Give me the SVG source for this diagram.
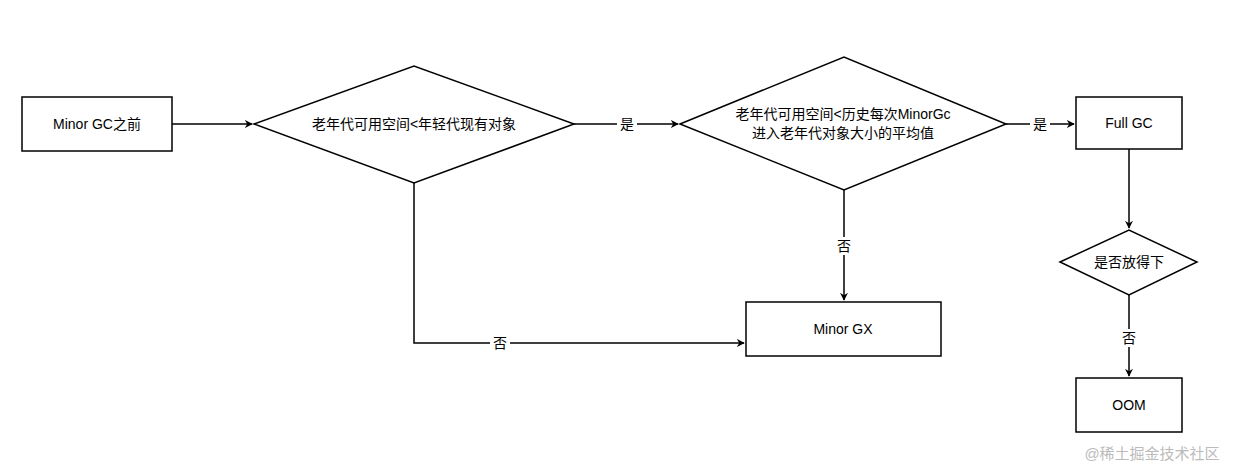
<svg xmlns="http://www.w3.org/2000/svg" width="1240" height="469" viewBox="0 0 1240 469">
<style>
.s{fill:#fff;stroke:#000;stroke-width:1.5}
.c{fill:none;stroke:#000;stroke-width:1.5}
text{font-family:"Liberation Sans","Noto Sans CJK SC",sans-serif;font-size:14px;fill:#000;text-anchor:middle;dominant-baseline:central}
.lb{fill:#fff;stroke:none}
</style>
<defs><marker id="a" viewBox="0 0 10 10" refX="9" refY="5" markerWidth="8" markerHeight="8" markerUnits="userSpaceOnUse" orient="auto"><path d="M0,0L10,5L0,10L3,5z" fill="#000"/></marker></defs>
<rect width="1240" height="469" fill="#fff"/>
<g id="connectors">
<path class="c" d="M172,124H252" marker-end="url(#a)"/>
<path class="c" d="M574,124H678" marker-end="url(#a)"/>
<path class="c" d="M1006,124H1074" marker-end="url(#a)"/>
<path class="c" d="M1129,149V228" marker-end="url(#a)"/>
<path class="c" d="M1129,295V376" marker-end="url(#a)"/>
<path class="c" d="M844,190V300" marker-end="url(#a)"/>
<path class="c" d="M414,183V343H744" marker-end="url(#a)"/>
<rect class="lb" x="617" y="115" width="20" height="18"/><text x="627" y="124">是</text>
<rect class="lb" x="1030" y="115" width="20" height="18"/><text x="1040" y="124">是</text>
<rect class="lb" x="1119" y="329" width="20" height="18"/><text x="1129" y="338">否</text>
<rect class="lb" x="834" y="237" width="20" height="18"/><text x="844" y="246">否</text>
<rect class="lb" x="490" y="334" width="20" height="18"/><text x="500" y="343">否</text>
</g>
<g id="n1"><rect class="s" x="22" y="97" width="150" height="54"/><text x="97" y="124">Minor GC之前</text></g>
<g id="n2"><path class="s" d="M254,124L414,66L574,124L414,183Z"/><text x="414" y="124">老年代可用空间&lt;年轻代现有对象</text></g>
<g id="n3"><path class="s" d="M680,124L844,57L1006,124L844,190Z"/><text x="843" y="114">老年代可用空间&lt;历史每次MinorGc</text><text x="843" y="133">进入老年代对象大小的平均值</text></g>
<g id="n4"><rect class="s" x="1076" y="97" width="106" height="52"/><text x="1129" y="123">Full GC</text></g>
<g id="n5"><path class="s" d="M1060,262L1129,230L1197,262L1129,295Z"/><text x="1129" y="262">是否放得下</text></g>
<g id="n6"><rect class="s" x="1076" y="378" width="106" height="54"/><text x="1129" y="405">OOM</text></g>
<g id="n7"><rect class="s" x="746" y="302" width="195" height="54"/><text x="843" y="329">Minor GX</text></g>
<text x="1152" y="453" style="fill:#bbb;font-size:15px">@稀土掘金技术社区</text>
</svg>
